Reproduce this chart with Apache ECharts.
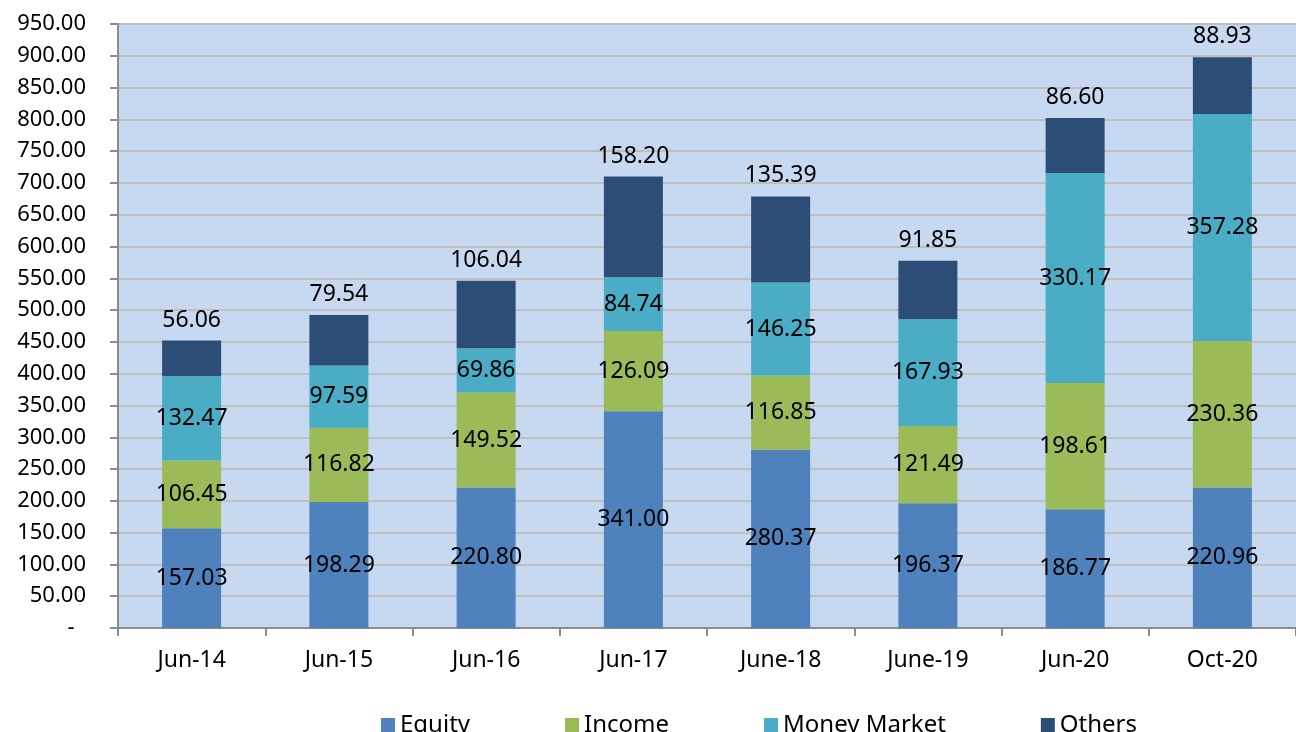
<!DOCTYPE html>
<html>
<head>
<meta charset="utf-8">
<script src="https://cdn.jsdelivr.net/npm/echarts@6/dist/echarts.min.js"></script>
<style>
	html, body { margin: 0; padding: 0; background: #fff; }
	#chart { width: 1296px; height: 732px; }
</style>
</head>
<body>
<div id="chart"></div>
<script>
var categories = ['Jun-14', 'Jun-15', 'Jun-16', 'Jun-17', 'June-18', 'June-19', 'Jun-20', 'Oct-20'];
var equity = [157.03, 198.29, 220.80, 341.00, 280.37, 196.37, 186.77, 220.96];
var income = [106.45, 116.82, 149.52, 126.09, 116.85, 121.49, 198.61, 230.36];
var moneyMarket = [132.47, 97.59, 69.86, 84.74, 146.25, 167.93, 330.17, 357.28];
var others = [56.06, 79.54, 106.04, 158.20, 135.39, 91.85, 86.60, 88.93];

var font = 'Noto Sans';

function makeSeries(name, data, color, pos) {
	return {
		name: name,
		type: 'bar',
		stack: 'total',
		barWidth: 59,
		data: data,
		itemStyle: { color: color },
		label: {
			show: true,
			position: pos,
			distance: 9,
			color: '#000',
			fontFamily: font,
			fontSize: 23,
			formatter: function(p) {
				return p.value.toFixed(2);
			}
		}
	};
}

var myChart = echarts.init(document.getElementById('chart'));
option = {
	animation: false,
	textStyle: { fontFamily: font },
	legend: {
		top: 708,
		left: 376,
		itemWidth: 14,
		itemHeight: 14,
		itemGap: 95,
		icon: 'rect',
		textStyle: { fontFamily: font, fontSize: 24, color: '#000' },
		data: ['Equity', 'Income', 'Money Market', 'Others']
	},
	grid: {
		left: 118,
		top: 24,
		width: 1184,
		bottom: 104,
		show: true,
		backgroundColor: '#C6D9F1',
		borderWidth: 0
	},
	xAxis: [{
		type: 'category',
		boundaryGap: true,
		data: categories,
		axisLine: { lineStyle: { color: '#8C8C8C', width: 2 } },
		axisTick: { show: true, length: 8, alignWithLabel: false, lineStyle: { color: '#8C8C8C', width: 2 } },
		axisLabel: { color: '#000', fontFamily: font, fontSize: 23, margin: 21 }
	}],
	yAxis: [{
		type: 'value',
		min: 0,
		max: 950,
		interval: 50,
		axisLine: { show: true, lineStyle: { color: '#8C8C8C', width: 2 } },
		axisTick: { show: true, length: 8, lineStyle: { color: '#8C8C8C', width: 2 } },
		splitLine: { show: true, lineStyle: { color: '#BFBFBF', width: 2 } },
		axisLabel: {
			color: '#000',
			fontFamily: font,
			fontSize: 22,
			margin: 32,
			formatter: function(v) {
				return v === 0 ? '-  ' : v.toFixed(2);
			}
		}
	}],
	series: [
		makeSeries('Equity', equity, '#4F81BD', 'inside'),
		makeSeries('Income', income, '#9BBB59', 'inside'),
		makeSeries('Money Market', moneyMarket, '#4BACC6', 'inside'),
		makeSeries('Others', others, '#2C4D75', 'top')
	]
};
myChart.setOption(option);
</script>
</body>
</html>
